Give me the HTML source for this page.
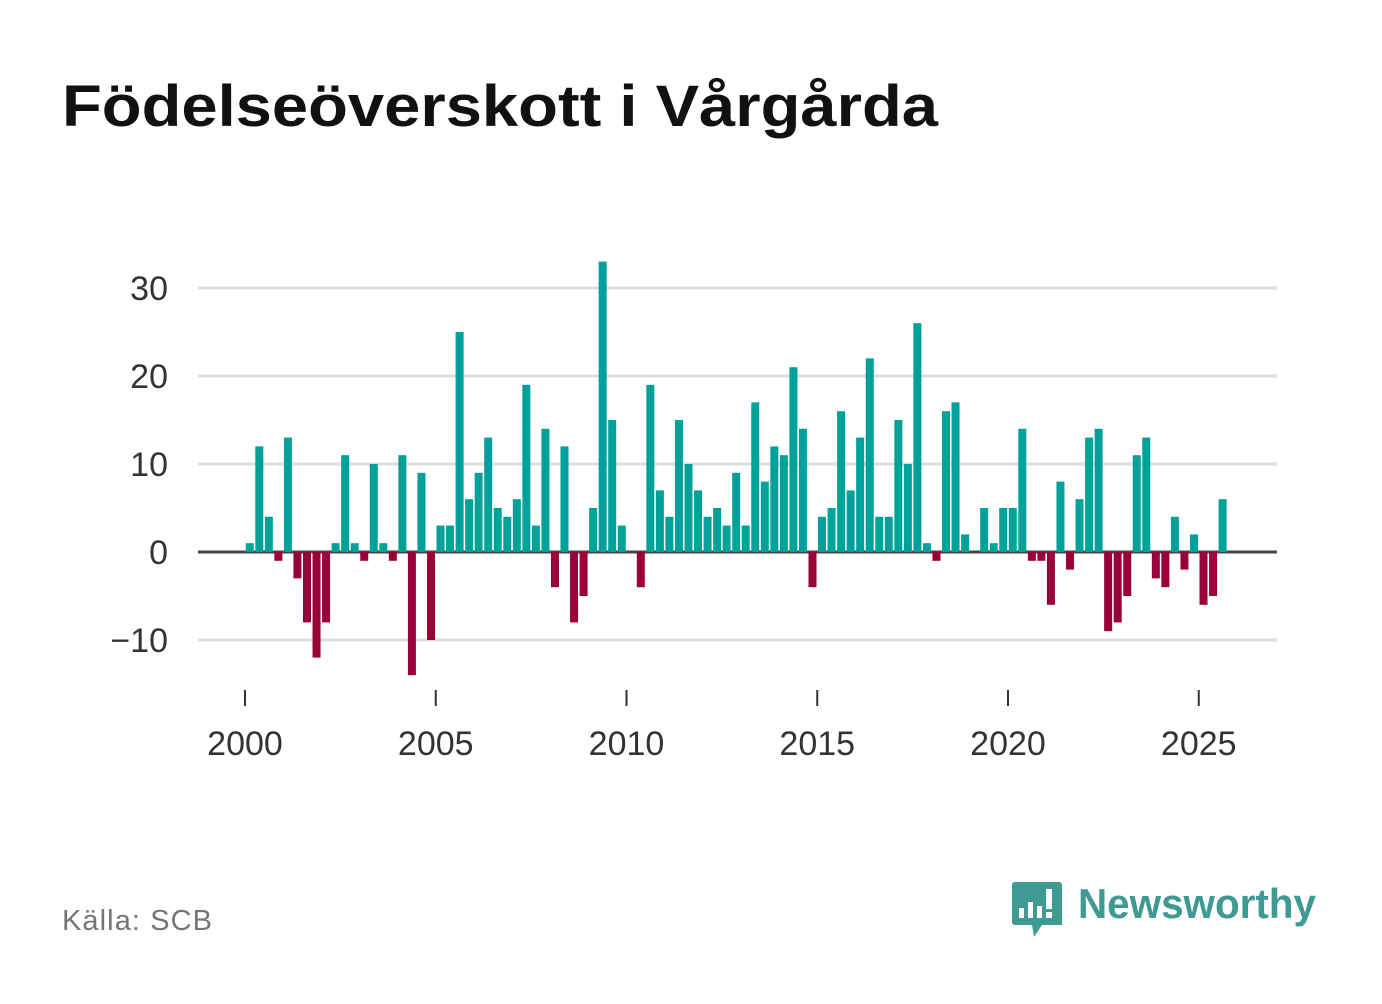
<!DOCTYPE html>
<html><head><meta charset="utf-8"><style>
body{margin:0;width:1382px;height:999px;background:#fff;font-family:"Liberation Sans",sans-serif;overflow:hidden}
</style></head><body>
<svg width="1382" height="999">
<text x="62" y="126" font-size="58" font-weight="bold" fill="#111" textLength="876" lengthAdjust="spacingAndGlyphs">Födelseöverskott i Vårgårda</text>
<g id="grid"></g><g id="bars"></g><g id="xaxis"></g>
<text x="62" y="930" font-size="29" fill="#757575" textLength="150">Källa: SCB</text>
<g>
<path d="M1015 882 h44 a3 3 0 0 1 3 3 v40 h-20 l-8 12 l-2-12 h-17 a3 3 0 0 1-3-3 v-37 a3 3 0 0 1 3-3z" fill="#3e9a93"/>
<rect x="1019" y="908" width="5" height="10" fill="#fff"/><rect x="1028" y="902" width="5" height="16" fill="#fff"/><rect x="1037" y="906" width="5" height="12" fill="#fff"/><rect x="1046" y="889" width="6" height="20" fill="#fff"/><rect x="1046" y="912" width="6" height="6" fill="#fff"/>
<text x="1078" y="918" font-size="42" font-weight="bold" fill="#3e9a93" textLength="238" lengthAdjust="spacingAndGlyphs">Newsworthy</text>
</g>
</svg>
<script>
const values=[1,12,4,-1,13,-3,-8,-12,-8,1, 11,1,-1,10,1,-1,11,-14,9,-10, 3,3,25,6,9,13,5,4,6,19, 3,14,-4,12,-8,-5,5,33,15,3, 0,-4,19,7,4,15,10,7,4,5, 3,9,3,17,8,12,11,21,14,-4, 4,5,16,7,13,22,4,4,15,10, 26,1,-1,16,17,2,0,5,1,5, 5,14,-1,-1,-6,8,-2,6,13,14, -9,-8,-5,11,13,-3,-4,4,-2,2, -6,-5,6];
const startYear=2000;
const yTicks=[-10,0,10,20,30];
const xTicks=[2000,2005,2010,2015,2020,2025];
const NS="http://www.w3.org/2000/svg";
const xs=y=>245+(y-2000)*38.15;
const ys=v=>552-v*8.8;
function mk(tag,a,p){const e=document.createElementNS(NS,tag);for(const k in a)e.setAttribute(k,a[k]);p.appendChild(e);return e;}
const G=document.getElementById('grid'),B=document.getElementById('bars'),X=document.getElementById('xaxis');
yTicks.forEach(t=>{
 const l=mk('line',{x1:198,x2:1277,y1:ys(t),y2:ys(t),stroke:t===0?'#444':'#ddd','stroke-width':3},G);
 
 
 const tx=mk('text',{x:168,y:ys(t)+12,'font-size':34,fill:'#333','text-anchor':'end'},G);
 tx.textContent=t<0?'\u2212'+Math.abs(t):t;
 
 
});
values.forEach((v,i)=>{
 const c=xs(startYear+(i+0.5)/4);
 const r=mk('rect',{x:c-4,width:8,y:v>=0?ys(v):ys(0),height:Math.abs(ys(v)-ys(0)),fill:v>=0?'#00a19a':'#9b0039'},B);
 
 
});
xTicks.forEach(t=>{
 const l=mk('line',{x1:xs(t),x2:xs(t),y1:690,y2:706,stroke:'#333','stroke-width':2},X);
 
 
 const tx=mk('text',{x:xs(t),y:755,'font-size':34,fill:'#333','text-anchor':'middle'},X);
 tx.textContent=t;
 
 
});
</script>
</body></html>
